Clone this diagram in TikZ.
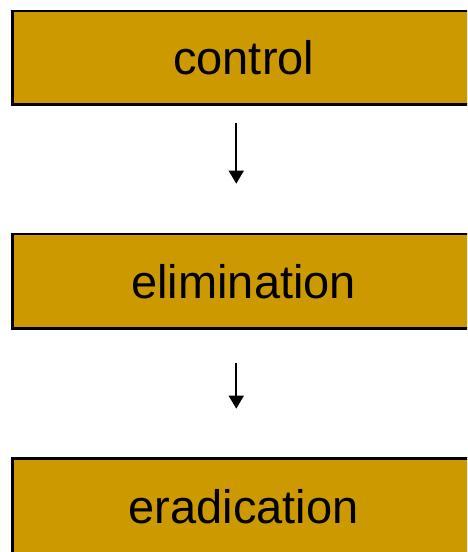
\documentclass[tikz,border=0pt]{standalone}
\usepackage{fontspec}
\setmainfont{Liberation Sans}
\usetikzlibrary{arrows.meta}
\definecolor{boxfill}{HTML}{CC9900}
\begin{document}
\begin{tikzpicture}[x=1pt,y=-1pt,
  stagebox/.style={draw=black,fill=boxfill,line width=2.7pt,rectangle,
    minimum width=462.5pt,inner sep=0pt,
    font=\fontsize{47}{56}\selectfont},
  flowarrow/.style={line width=1.6pt,-{Triangle[length=13pt,width=15pt]}}]
\useasboundingbox (0,0) rectangle (467,552);
\clip (0,0) rectangle (467,552);
\node[stagebox,minimum height=93.5pt] (b1) at (243.75,57.75) {control};
\node[stagebox,minimum height=94.5pt] (b2) at (243.75,281.25) {elimination};
\node[stagebox,minimum height=96pt] (b3) at (243.75,506.5) {eradication};
\draw[flowarrow,shorten <=17.5pt,shorten >=49pt] ([xshift=-7.5pt]b1.south) -- ([xshift=-7.5pt]b2.north);
\draw[flowarrow,shorten <=33.5pt,shorten >=48.5pt] ([xshift=-7.5pt]b2.south) -- ([xshift=-7.5pt]b3.north);
\end{tikzpicture}
\end{document}
